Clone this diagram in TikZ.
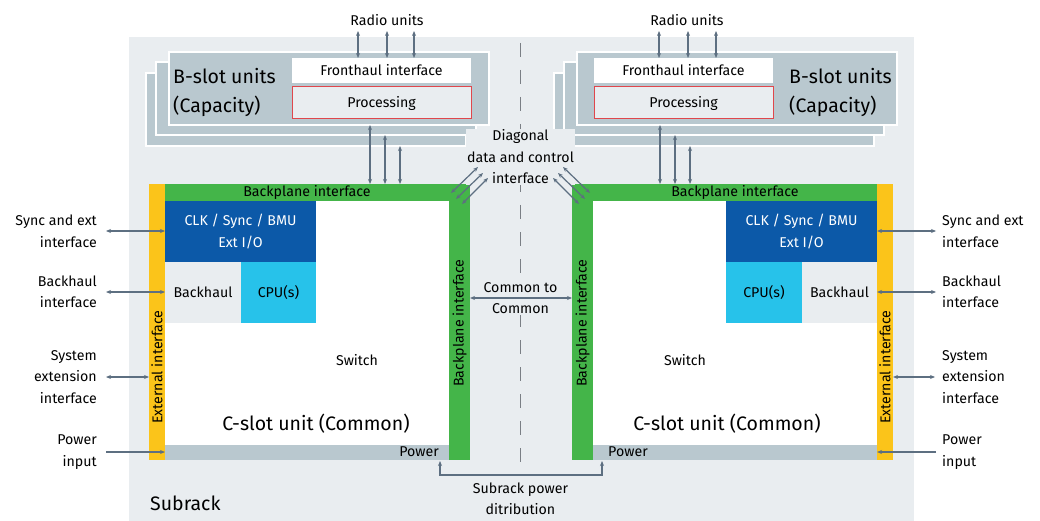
\documentclass[tikz,border=0pt]{standalone}
\usepackage{fontspec}
\setmainfont{Fira Sans}
\usetikzlibrary{arrows.meta}
\definecolor{rackgray}{HTML}{E9EDF0}
\definecolor{slotgray}{HTML}{B9C8CF}
\definecolor{bpgreen}{HTML}{44B549}
\definecolor{extyellow}{HTML}{FBC41A}
\definecolor{clkblue}{HTML}{0C59A8}
\definecolor{cpublue}{HTML}{27C2EA}
\definecolor{linkgray}{HTML}{5D6F81}
\definecolor{procred}{HTML}{E0474C}
\definecolor{dashgray}{HTML}{7A7F85}
\tikzset{
  blk/.style={anchor=north west, inner sep=0pt, outer sep=0pt},
  slot/.style={blk, fill=slotgray, draw=white, line width=1.2pt, minimum width=320pt, minimum height=73pt},
  txt/.style={font=\fontsize{14.2}{21.5}\selectfont, align=center, inner sep=0pt},
  bigtxt/.style={font=\fontsize{19.5}{29}\selectfont, align=left, inner sep=0pt},
  link/.style={draw=linkgray, line width=1.2pt, {Stealth[length=5pt,width=4pt]}-{Stealth[length=5pt,width=4pt]}},
  feed/.style={draw=linkgray, line width=1.2pt, -{Stealth[length=5pt,width=4pt]}},
}
\begin{document}
\begin{tikzpicture}[x=1pt, y=-1pt]
  %%%%% START %%%%%
  \useasboundingbox (0,0) rectangle (1040,521);
  \fill[rackgray] (129,37) rectangle (914,521);
  \draw[dashgray, line width=1.2pt, dash pattern=on 14pt off 13pt] (520.5,43) -- (520.5,464);

  % B-slot units, left
  \node[slot] (bL3) at (146,73) {};
  \node[slot] (bL2) at (156,62) {};
  \node[slot] (bL1) at (169,52) {};
  \node[blk, fill=white, minimum width=179pt, minimum height=25pt, txt] (fhL) at (292,58) {Fronthaul interface};
  \node[blk, fill=rackgray, draw=procred, line width=1pt, minimum width=179pt, minimum height=32pt, txt] (procL) at (292,87) {Processing};
  \node[bigtxt, anchor=west] (bslotL) at (173,92) {B-slot units\\(Capacity)};
  \node[txt] (radioL) at (387,20) {Radio units};

  % B-slot units, right
  \node[slot] (bR3) at (554,73) {};
  \node[slot] (bR2) at (564,62) {};
  \node[slot] (bR1) at (577,52) {};
  \node[blk, fill=white, minimum width=179pt, minimum height=25pt, txt] (fhR) at (594,58) {Fronthaul interface};
  \node[blk, fill=rackgray, draw=procred, line width=1pt, minimum width=179pt, minimum height=32pt, txt] (procR) at (594,87) {Processing};
  \node[bigtxt, anchor=west] (bslotR) at (789,92) {B-slot units\\(Capacity)};
  \node[txt] (radioR) at (687,20) {Radio units};

  % C-slot unit, left
  \node[blk, fill=white, minimum width=284pt, minimum height=244pt] (swL) at (165,201) {};
  \node[blk, fill=slotgray, minimum width=300pt, minimum height=15pt] (pwrL) at (165,445) {};
  \node[blk, fill=extyellow, minimum width=16pt, minimum height=276pt] (extL) at (149,184) {};
  \node[blk, fill=bpgreen, minimum width=305pt, minimum height=17pt] (bphL) at (165,184) {};
  \node[blk, fill=bpgreen, minimum width=21pt, minimum height=276pt] (bpvL) at (449,184) {};
  \node[blk, fill=clkblue, minimum width=151pt, minimum height=61pt, txt, text=white] (clkL) at (165,201) {CLK / Sync / BMU\\Ext I/O};
  \node[blk, fill=rackgray, minimum width=76pt, minimum height=61pt, txt] (bhL) at (165,262) {Backhaul};
  \node[blk, fill=cpublue, minimum width=75pt, minimum height=61pt, txt] (cpuL) at (241,262) {CPU(s)};
  \node[txt] at (307,192) {Backplane interface};
  \node[txt, rotate=90] at (459.5,323) {Backplane interface};
  \node[txt, rotate=90] at (157,367) {External interface};
  \node[txt, anchor=east] at (439,452) {Power};
  \node[txt] (switchL) at (357,360) {Switch};
  \node[bigtxt] (cslotL) at (316,424) {C-slot unit (Common)};

  % C-slot unit, right
  \node[blk, fill=white, minimum width=284pt, minimum height=244pt] (swR) at (593,201) {};
  \node[blk, fill=slotgray, minimum width=300pt, minimum height=15pt] (pwrR) at (577,445) {};
  \node[blk, fill=extyellow, minimum width=16pt, minimum height=276pt] (extR) at (877,184) {};
  \node[blk, fill=bpgreen, minimum width=305pt, minimum height=17pt] (bphR) at (572,184) {};
  \node[blk, fill=bpgreen, minimum width=21pt, minimum height=276pt] (bpvR) at (572,184) {};
  \node[blk, fill=clkblue, minimum width=151pt, minimum height=61pt, txt, text=white] (clkR) at (726,201) {CLK / Sync / BMU\\Ext I/O};
  \node[blk, fill=cpublue, minimum width=76pt, minimum height=61pt, txt] (cpuR) at (726,262) {CPU(s)};
  \node[blk, fill=rackgray, minimum width=75pt, minimum height=61pt, txt] (bhR) at (802,262) {Backhaul};
  \node[txt] at (735,192) {Backplane interface};
  \node[txt, rotate=90] at (582.5,323) {Backplane interface};
  \node[txt, rotate=90] at (885,367) {External interface};
  \node[txt, anchor=west] at (608,452) {Power};
  \node[txt] (switchR) at (685,360) {Switch};
  \node[bigtxt] (cslotR) at (727,424) {C-slot unit (Common)};

  % middle texts
  \node[txt, fill=rackgray, inner sep=1pt] (diag) at (520.5,157) {Diagonal\\data and control\\interface};
  \node[txt, fill=rackgray, inner sep=1pt] (c2c) at (520.5,298) {Common to\\Common};
  \node[txt] (subpwr) at (520.5,499) {Subrack power\\ditribution};
  \node[bigtxt, anchor=west] (subrack) at (150,503) {Subrack};

  % side labels
  \node[txt, align=right, anchor=east] (syncL) at (97,231.5) {Sync and ext\\interface};
  \node[txt, align=right, anchor=east] (bhiL) at (97,292) {Backhaul\\interface};
  \node[txt, align=right, anchor=east] (sysL) at (97,377) {System\\extension\\interface};
  \node[txt, align=right, anchor=east] (pinL) at (97,452) {Power\\input};
  \node[txt, align=left, anchor=west] (syncR) at (942,231.5) {Sync and ext\\interface};
  \node[txt, align=left, anchor=west] (bhiR) at (942,292) {Backhaul\\interface};
  \node[txt, align=left, anchor=west] (sysR) at (942,377) {System\\extension\\interface};
  \node[txt, align=left, anchor=west] (pinR) at (942,452) {Power\\input};

  % connectors
  \foreach \x in {358,387,414} \draw[link] (\x,31) -- (\x,0 |- fhL.north);
  \foreach \x in {659,688,716} \draw[link] (\x,31) -- (\x,0 |- fhR.north);
  \draw[link] (370,0 |- bL1.south) -- (370,0 |- bphL.north);
  \draw[link] (385,0 |- bL2.south) -- (385,0 |- bphL.north);
  \draw[link] (400,0 |- bL3.south) -- (400,0 |- bphL.north);
  \draw[link] (660,0 |- bR1.south) -- (660,0 |- bphR.north);
  \draw[link] (675,0 |- bR2.south) -- (675,0 |- bphR.north);
  \draw[link] (690,0 |- bR3.south) -- (690,0 |- bphR.north);
  \draw[link] (451,193) -- (478,167);
  \draw[link] (456,199) -- (483,173);
  \draw[link] (462,204) -- (488,178);
  \draw[link] (590,193) -- (563,167);
  \draw[link] (585,199) -- (558,173);
  \draw[link] (579,204) -- (553,178);
  \draw[link] (bpvL.east |- c2c) -- (bpvR.west |- c2c);
  \draw[link] (440,461) |- (520.5,475) -| (602,461);

  \draw[link] (106,231) -- (clkL.west |- 0,231);
  \draw[link] (106,292) -- (bhL.west |- 0,292);
  \draw[link] (106,377) -- (extL.west |- 0,377);
  \draw[feed] (106,452) -- (pwrL.west |- 0,452);
  \draw[link] (936,231) -- (clkR.east |- 0,231);
  \draw[link] (936,292) -- (bhR.east |- 0,292);
  \draw[link] (935,377) -- (extR.east |- 0,377);
  \draw[feed] (936,452) -- (pwrR.east |- 0,452);
  %%%%% END %%%%%
\end{tikzpicture}
\end{document}
